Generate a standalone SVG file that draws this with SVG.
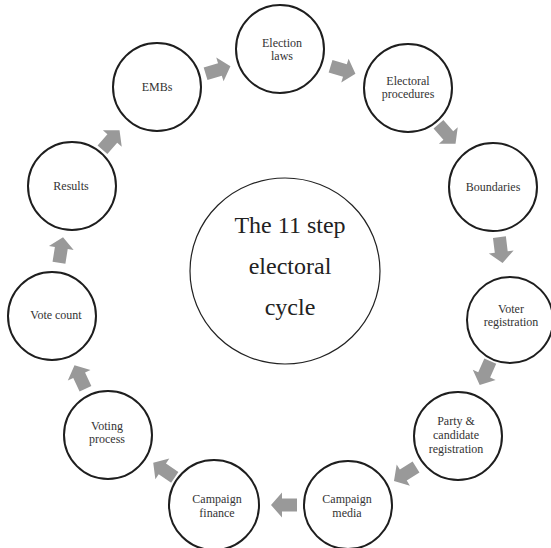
<svg xmlns="http://www.w3.org/2000/svg" width="551" height="548" viewBox="0 0 551 548">
<defs>
<style>
.node circle{fill:#fff;stroke:#1e1e1e;stroke-width:2}
.node text{font-family:"Liberation Serif","Times New Roman",serif;font-size:12px;fill:#333;text-anchor:middle}
#hub text{font-family:"Liberation Serif","Times New Roman",serif;font-size:24px;fill:#222;text-anchor:middle}
.arr{fill:#999}
</style>
<polygon id="ar" points="-13,-6.5 2,-6.5 2,-12.5 13,0 2,12.5 2,6.5 -13,6.5"/>
</defs>
<rect width="551" height="548" fill="#fff"/>
<g id="hub">
<ellipse cx="285" cy="271" rx="95" ry="93" fill="#fff" stroke="#222" stroke-width="1.2"/>
<text x="290" y="233">The 11 step</text>
<text x="290" y="274">electoral</text>
<text x="290" y="315">cycle</text>
</g>
<g id="connectors" class="arr">
<use href="#ar" transform="translate(218,70) rotate(-17)"/>
<use href="#ar" transform="translate(343,70) rotate(17)"/>
<use href="#ar" transform="translate(447,134) rotate(49)"/>
<use href="#ar" transform="translate(501,250) rotate(83)"/>
<use href="#ar" transform="translate(485,373) rotate(114)"/>
<use href="#ar" transform="translate(405,474) rotate(148)"/>
<use href="#ar" transform="translate(284,505) rotate(180)"/>
<use href="#ar" transform="translate(164,470) rotate(-146)"/>
<use href="#ar" transform="translate(80,377) rotate(-115)"/>
<use href="#ar" transform="translate(61,250) rotate(-81)"/>
<use href="#ar" transform="translate(111,140) rotate(-49)"/>
</g>
<g id="election-laws" class="node"><circle cx="280" cy="49" r="44"/><text x="282" y="47">Election</text><text x="282" y="60">laws</text></g>
<g id="electoral-procedures" class="node"><circle cx="408" cy="88" r="44"/><text x="408" y="85">Electoral</text><text x="408" y="98">procedures</text></g>
<g id="boundaries" class="node"><circle cx="493" cy="187" r="44"/><text x="493" y="191">Boundaries</text></g>
<g id="voter-registration" class="node"><circle cx="510" cy="320" r="43"/><text x="511" y="313">Voter</text><text x="511" y="326">registration</text></g>
<g id="party-registration" class="node"><circle cx="458" cy="436" r="44"/><text x="456" y="425">Party &amp;</text><text x="456" y="438.5">candidate</text><text x="456" y="453">registration</text></g>
<g id="campaign-media" class="node"><circle cx="348" cy="505" r="44"/><text x="347" y="503">Campaign</text><text x="347" y="517">media</text></g>
<g id="campaign-finance" class="node"><circle cx="214" cy="505" r="45"/><text x="217" y="503">Campaign</text><text x="217" y="517">finance</text></g>
<g id="voting-process" class="node"><circle cx="108" cy="435" r="44"/><text x="107" y="430">Voting</text><text x="107" y="443">process</text></g>
<g id="vote-count" class="node"><circle cx="52" cy="316" r="44"/><text x="56" y="319">Vote count</text></g>
<g id="results" class="node"><circle cx="72" cy="186" r="44"/><text x="71" y="190">Results</text></g>
<g id="embs" class="node"><circle cx="157" cy="87" r="44"/><text x="157" y="91">EMBs</text></g>
</svg>
